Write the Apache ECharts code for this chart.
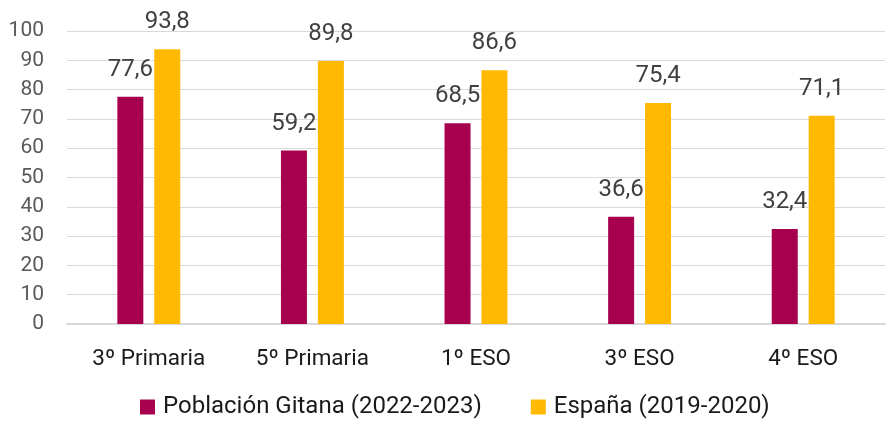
<!DOCTYPE html>
<html><head><meta charset="utf-8">
<script src="https://cdn.jsdelivr.net/npm/echarts@6/dist/echarts.min.js"></script>
<style>html,body{margin:0;padding:0;background:#fff}#c{width:888px;height:423px}</style>
</head><body><div id="c"></div>
<script>
var categories = ['3º Primaria', '5º Primaria', '1º ESO', '3º ESO', '4º ESO'];
var gitana = [77.6, 59.2, 68.5, 36.6, 32.4];
var espana = [93.8, 89.8, 86.6, 75.4, 71.1];
var seriesNames = ['Población Gitana (2022-2023)', 'España (2019-2020)'];

var chart = echarts.init(document.getElementById('c'), null, {renderer: 'canvas'});
var lbl = {show: true, position: 'top', distance: 15, fontFamily: 'Roboto', fontSize: 24, color: '#404040',
  formatter: function (p) { return String(p.value).replace('.', ','); }};
chart.setOption({
  animation: false,
  textStyle: {fontFamily: 'Roboto'},
  grid: {left: 67, right: 3, top: 31, bottom: 99},
  legend: {
    bottom: -1, left: 135, itemWidth: 15, itemHeight: 15, itemGap: 49, icon: 'rect',
    textStyle: {fontFamily: 'Roboto', fontSize: 24, color: '#1a1a1a', padding: [0, 0, 0, 3]},
    data: seriesNames
  },
  xAxis: {
    type: 'category', data: categories,
    axisLine: {lineStyle: {color: '#d9d9d9', width: 2}},
    axisTick: {show: false},
    axisLabel: {fontFamily: 'Roboto', fontSize: 22.5, color: '#1a1a1a', margin: 24}
  },
  yAxis: {
    type: 'value', min: 0, max: 100, interval: 10,
    axisLine: {show: false}, axisTick: {show: false},
    axisLabel: {fontFamily: 'Roboto', fontSize: 21, color: '#595959', margin: 23},
    splitLine: {lineStyle: {color: '#d9d9d9', width: 1}}
  },
  series: [
    {name: seriesNames[0], type: 'bar', data: gitana, barWidth: 26, barGap: '42%',
     itemStyle: {color: '#A6004F'}, label: lbl},
    {name: seriesNames[1], type: 'bar', data: espana, barWidth: 26,
     itemStyle: {color: '#FFB900'}, label: lbl}
  ]
});
</script></body></html>
